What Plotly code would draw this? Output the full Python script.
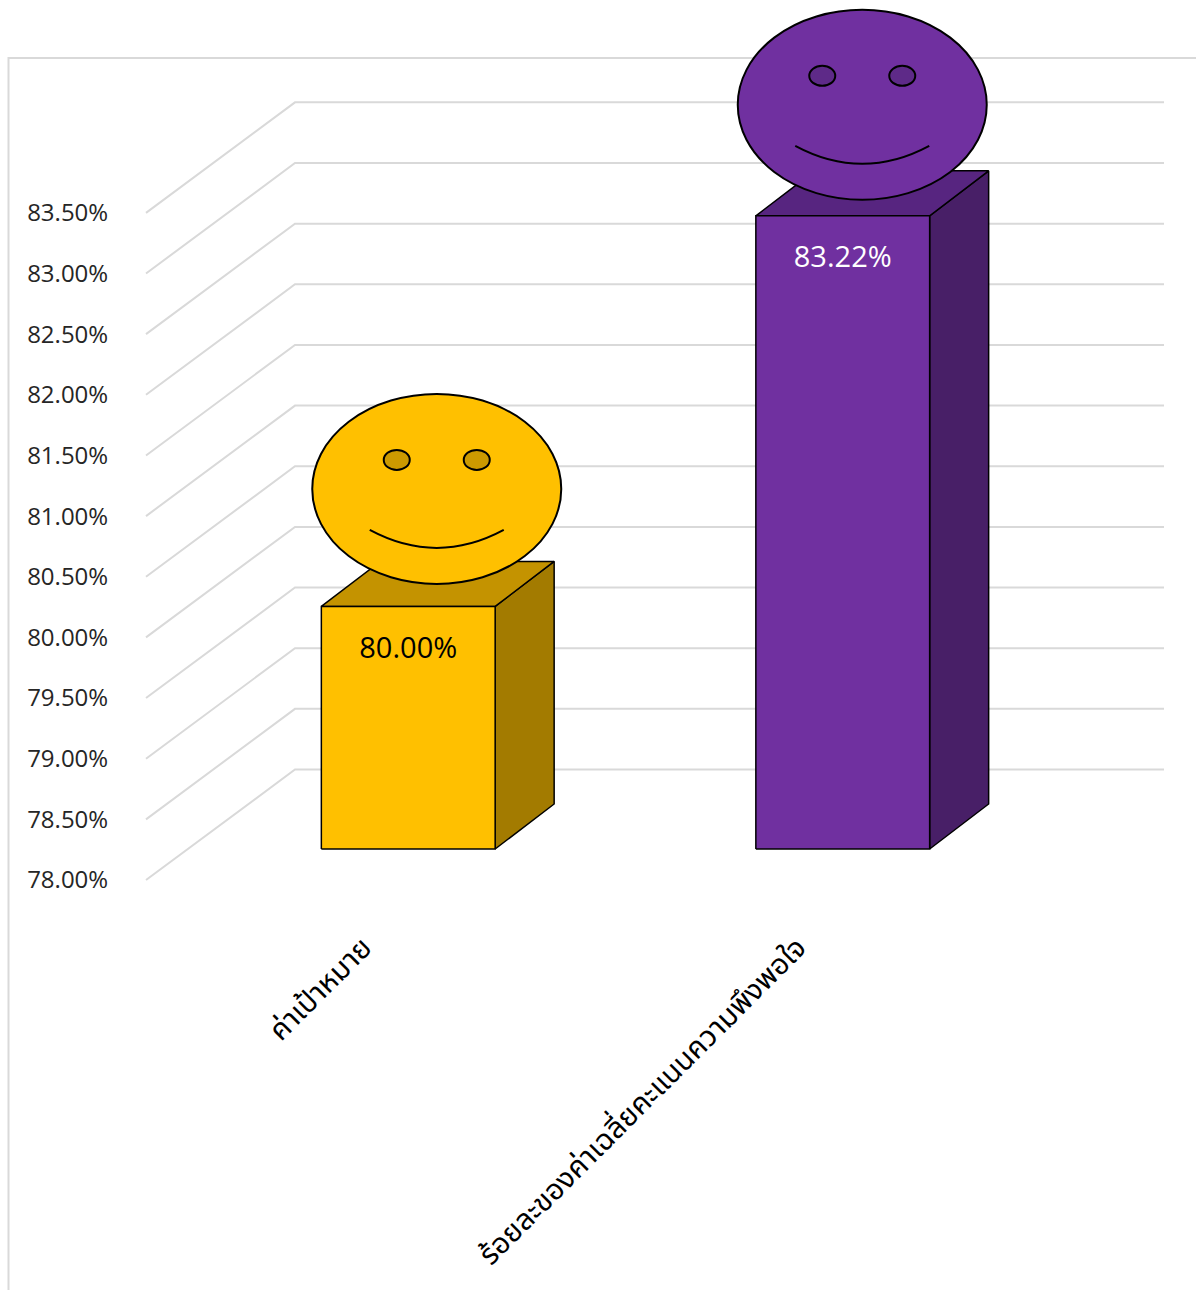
import plotly.graph_objects as go

# Chart data
categories = ["ค่าเป้าหมาย", "ร้อยละของค่าเฉลี่ยคะแนนความพึงพอใจ"]
values = [80.00, 83.22]
value_labels = ["80.00%", "83.22%"]
tick_values = [78.0, 78.5, 79.0, 79.5, 80.0, 80.5, 81.0, 81.5, 82.0, 82.5, 83.0, 83.5]
tick_labels = ["78.00%", "78.50%", "79.00%", "79.50%", "80.00%", "80.50%",
               "81.00%", "81.50%", "82.00%", "82.50%", "83.00%", "83.50%"]

# Colours per bar: front, top, side, eye, label
front_colors = ["#FFC000", "#7030A0"]
top_colors = ["#C49300", "#572580"]
side_colors = ["#A37B00", "#481F67"]
eye_colors = ["#CC9A00", "#5E2A88"]
label_colors = ["#000000", "#FFFFFF"]

WIDTH, HEIGHT = 1196, 1290
PX_PER_CAT = 434.5      # horizontal pixels per category slot
PX_PER_UNIT = 121.3     # vertical pixels per percentage point
ORIGIN_X, ORIGIN_Y = 146, 880   # pixel of category edge -0.5 and of value 78
BASE = 78.0

xrange_ = [-0.5 - ORIGIN_X / PX_PER_CAT, -0.5 + (WIDTH - ORIGIN_X) / PX_PER_CAT]
yrange_ = [BASE - (HEIGHT - ORIGIN_Y) / PX_PER_UNIT, BASE + ORIGIN_Y / PX_PER_UNIT]


def project(cat, val, dx=0.0, dy=0.0):
    """Oblique projection: shift a data point by a depth offset given in pixels."""
    return cat + dx / PX_PER_CAT, val + dy / PX_PER_UNIT


WALL = (149, 110.5)      # depth of the back wall
BAR_PLANE = (45, 31)     # depth of the front face of each bar
BAR_DEPTH = (59, 45)     # depth of the bar itself
HALF_BAR = 0.2           # half a bar width, in category units

fig = go.Figure()

# Receding gridlines: floor edge to back wall, then along the wall
for tick in tick_values:
    x0, y0 = project(-0.5, tick)
    x1, y1 = project(-0.5, tick, *WALL)
    x2, y2 = project(1.5, tick, *WALL)
    fig.add_trace(go.Scatter(x=[x0, x1, x2], y=[y0, y1, y2], mode="lines",
                             line=dict(color="#D9D9D9", width=2), hoverinfo="skip"))


def polygon(points, fill):
    fig.add_trace(go.Scatter(x=[p[0] for p in points] + [points[0][0]],
                             y=[p[1] for p in points] + [points[0][1]],
                             mode="lines", fill="toself", fillcolor=fill,
                             line=dict(color="#000000", width=1.5), hoverinfo="skip"))


shapes = [
    # Chart frame, cut off at the right and bottom of the page
    dict(type="path", xref="paper", yref="paper",
         path=f"M {8.5 / WIDTH} 0 L {8.5 / WIDTH} {1 - 58 / HEIGHT} L 1 {1 - 58 / HEIGHT}",
         line=dict(color="#D9D9D9", width=2), layer="below"),
]

# Each smiley sits on its bar's top face; offset from the top-face centre in pixels
FACE_OFFSETS = [(-1, 95), (-10, 88.5)]
FACE_RX, FACE_RY = 124.5, 95

for i, (val, color) in enumerate(zip(values, front_colors)):
    def at(side, level, depth):
        return project(i + side * HALF_BAR, level,
                       BAR_PLANE[0] + depth * BAR_DEPTH[0],
                       BAR_PLANE[1] + depth * BAR_DEPTH[1])

    polygon([at(1, BASE, 0), at(1, BASE, 1), at(1, val, 1), at(1, val, 0)], side_colors[i])
    polygon([at(-1, val, 0), at(1, val, 0), at(1, val, 1), at(-1, val, 1)], top_colors[i])
    polygon([at(-1, BASE, 0), at(1, BASE, 0), at(1, val, 0), at(-1, val, 0)], color)

    # Value label inside the front face, 44 px under its top edge
    lx, ly = project(i, val, BAR_PLANE[0], BAR_PLANE[1] - 44)
    fig.add_trace(go.Scatter(x=[lx], y=[ly], mode="text", text=[value_labels[i]],
                             textposition="middle center", hoverinfo="skip",
                             textfont=dict(family="Open Sans, sans-serif", size=29,
                                           color=label_colors[i])))

    # Smiley anchored on the bar's top value
    ax, ay = project(i, val, BAR_PLANE[0] + BAR_DEPTH[0] / 2, BAR_PLANE[1] + BAR_DEPTH[1] / 2)
    ox, oy = FACE_OFFSETS[i]
    anchored = dict(xref="x", yref="y", xsizemode="pixel", ysizemode="pixel",
                    xanchor=ax, yanchor=ay, layer="above")
    shapes.append(dict(type="circle", x0=ox - FACE_RX, x1=ox + FACE_RX,
                       y0=oy - FACE_RY, y1=oy + FACE_RY, fillcolor=color,
                       line=dict(color="#000000", width=2), **anchored))
    for ex in (-40, 40):
        shapes.append(dict(type="circle", x0=ox + ex - 13, x1=ox + ex + 13,
                           y0=oy + 29 - 10, y1=oy + 29 + 10, fillcolor=eye_colors[i],
                           line=dict(color="#000000", width=2), **anchored))
    shapes.append(dict(type="path",
                       path=f"M {ox - 67} {oy - 41} Q {ox} {oy - 77} {ox + 67} {oy - 41}",
                       line=dict(color="#000000", width=2), **anchored))

fig.update_layout(
    width=WIDTH, height=HEIGHT, showlegend=False,
    margin=dict(l=0, r=0, t=0, b=0),
    paper_bgcolor="#FFFFFF", plot_bgcolor="rgba(0,0,0,0)",
    shapes=shapes,
    xaxis=dict(domain=[0, 1], range=xrange_, anchor="free",
               position=(HEIGHT - ORIGIN_Y) / HEIGHT,
               tickmode="array", tickvals=[0, 1], ticktext=categories, tickangle=-45,
               ticks="outside", ticklen=38, tickcolor="rgba(0,0,0,0)",
               tickfont=dict(family="Noto Sans Thai, Noto Sans, sans-serif", size=29, color="#000000"),
               showgrid=False, zeroline=False, showline=False),
    yaxis=dict(domain=[0, 1], range=yrange_, anchor="free",
               position=ORIGIN_X / WIDTH,
               tickmode="array", tickvals=tick_values, ticktext=tick_labels,
               ticks="outside", ticklen=33, tickcolor="rgba(0,0,0,0)",
               tickfont=dict(family="Open Sans, sans-serif", size=24, color="#262626"),
               showgrid=False, zeroline=False, showline=False),
)

fig.write_html("out.html")
